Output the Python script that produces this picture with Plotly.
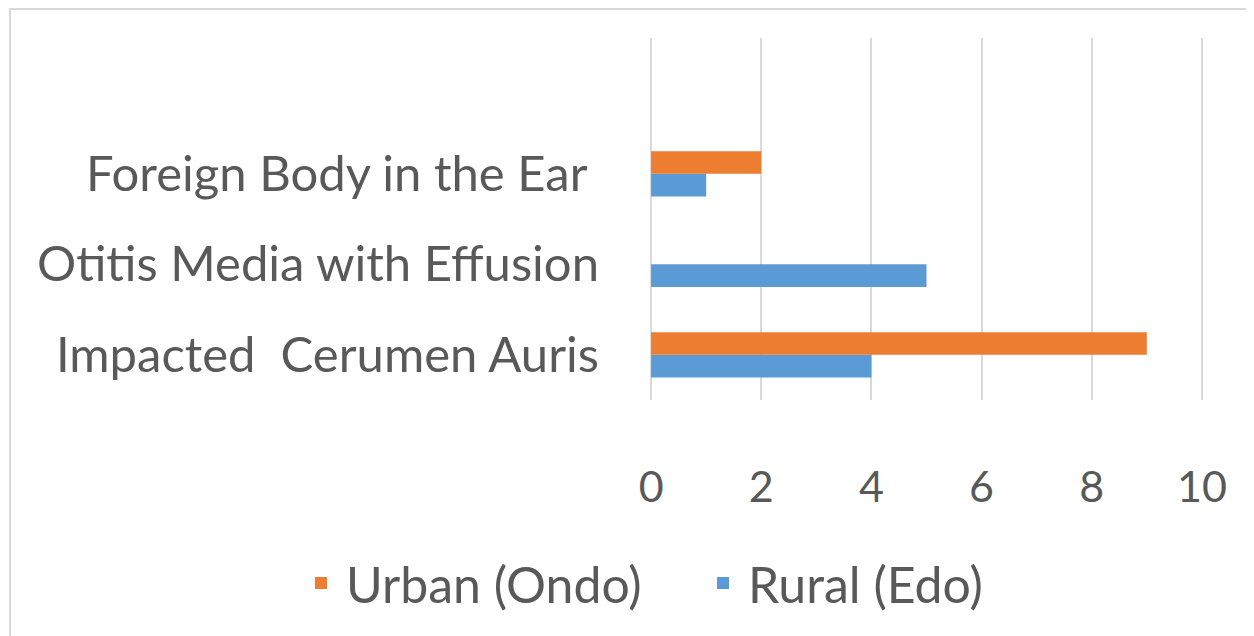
import plotly.graph_objects as go

categories = ["Impacted  Cerumen Auris", "Otitis Media with Effusion", "Foreign Body in the Ear "]
urban_ondo = [9, 0, 2]
rural_edo = [4, 5, 1]
x_ticks = [0, 2, 4, 6, 8, 10]

ORANGE = "#ED7D31"
BLUE = "#5B9BD5"
TEXT = "#595959"
GRID = "#D9D9D9"
FONT = "Lato"

fig = go.Figure()
fig.add_trace(go.Bar(y=categories, x=rural_edo, orientation="h", name="Rural (Edo)",
                     marker=dict(color=BLUE, line=dict(width=0))))
fig.add_trace(go.Bar(y=categories, x=urban_ondo, orientation="h", name="Urban (Ondo)",
                     marker=dict(color=ORANGE, line=dict(width=0))))

OFF = 8  # page body margin
W, H = 1254 - OFF, 636 - OFF
L, R, T, B = 642, 51, 30, 236
pw = W - L - R
ph = H - T - B

def px_x(p):
    return (p - OFF - L) / pw

def px_y(p):
    return (H - B - (p - OFF)) / ph

fig.update_layout(
    width=W, height=H,
    margin=dict(l=L, r=R, t=T, b=B),
    paper_bgcolor="white", plot_bgcolor="white",
    barmode="group", bargap=0.5, bargroupgap=0,
    font=dict(family=FONT, color=TEXT, size=46),
    showlegend=True,
    legend=dict(orientation="h", traceorder="reversed",
                x=px_x(296), xanchor="left", y=px_y(583), yanchor="middle",
                font=dict(size=50, color=TEXT), itemwidth=40,
                entrywidth=347, entrywidthmode="pixels",
                bgcolor="rgba(0,0,0,0)"),
    xaxis=dict(range=[-0.02, 10.02], tickvals=x_ticks, showgrid=True, gridcolor=GRID, gridwidth=2,
               zeroline=False, showline=False, ticks="", ticklabelstandoff=58,
               tickfont=dict(size=43, color=TEXT, family=FONT)),
    yaxis=dict(type="category", categoryarray=categories, range=[-0.5, 3.5],
               showgrid=False, zeroline=False, showline=False, ticks="",
               ticklabelstandoff=50, tickfont=dict(size=49, color=TEXT, family=FONT)),
    shapes=[dict(type="rect", xref="paper", yref="paper",
                 x0=px_x(10), x1=px_x(1262), y0=px_y(645), y1=px_y(9),
                 line=dict(color=GRID, width=2), fillcolor="rgba(0,0,0,0)", layer="below")],
)

fig.write_html("out.html")
